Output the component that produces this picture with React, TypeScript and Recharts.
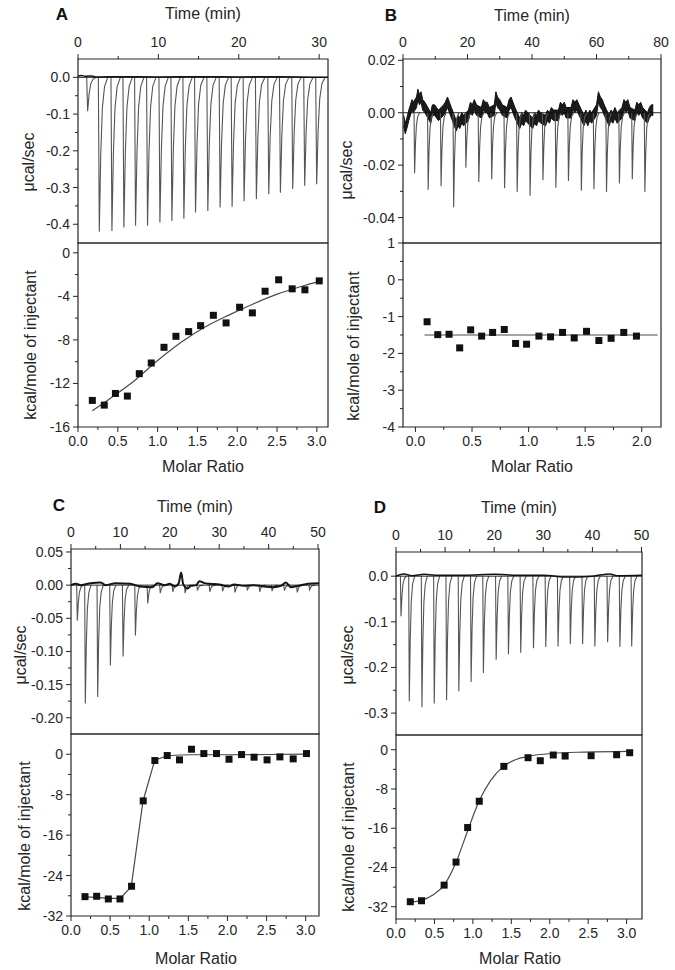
import React from 'react';
import { ComposedChart, Line, Area, Scatter, XAxis, YAxis, ReferenceArea, ReferenceLine } from 'recharts';

const FONT = '"Liberation Sans", Arial, Helvetica, sans-serif';
const INK = '#262626';

// ---------- Panel A ----------
const A_INJ_TIME = [1.2, 2.65, 4.22, 5.71, 7.16, 8.65, 10.19, 11.68, 13.17, 14.62, 16.15, 17.68, 19.17, 20.66, 22.19, 23.73, 25.18, 26.71, 28.2, 29.69];
const A_INJ_PEAK = [-0.092, -0.42, -0.418, -0.409, -0.404, -0.404, -0.395, -0.391, -0.385, -0.368, -0.364, -0.354, -0.352, -0.337, -0.331, -0.318, -0.314, -0.304, -0.295, -0.291];
const A_BASE_T = [0, 0.4, 0.9, 1.7, 2.3, 5, 10, 15, 20, 25, 31.1];
const A_BASE_V = [0.004, 0.005, 0.003, 0.004, 0.001, 0.002, 0.001, 0.002, 0.001, 0.002, 0.0];
const A_RATIO = [0.18, 0.33, 0.47, 0.62, 0.77, 0.92, 1.08, 1.23, 1.39, 1.54, 1.7, 1.86, 2.03, 2.19, 2.35, 2.52, 2.69, 2.85, 3.03];
const A_HEAT = [-13.56, -13.99, -12.92, -13.16, -11.1, -10.12, -8.68, -7.67, -7.24, -6.69, -5.74, -6.44, -5.0, -5.52, -3.53, -2.48, -3.31, -3.4, -2.58];
const A_FIT_X = [0.18, 0.4, 0.7, 1.0, 1.3, 1.6, 1.9, 2.2, 2.5, 2.8, 3.04];
const A_FIT_Y = [-14.5, -13.4, -11.8, -9.9, -8.2, -6.8, -5.7, -4.7, -3.8, -3.1, -2.6];

// ---------- Panel B ----------
const B_INJ_TIME = [3.6, 7.8, 11.8, 15.7, 19.5, 23.5, 27.5, 31.5, 35.4, 39.4, 43.4, 47.4, 51.3, 55.3, 59.2, 63.1, 67.1, 71.1, 75.0];
const B_INJ_PEAK = [-0.0231, -0.0294, -0.028, -0.0361, -0.021, -0.0264, -0.0254, -0.0288, -0.0302, -0.0317, -0.0258, -0.0286, -0.026, -0.0298, -0.0292, -0.0302, -0.027, -0.0254, -0.0302];
const B_BASE_T = [0.2, 0.7, 1.2, 1.8, 2.3, 2.8, 3.2, 4.2, 4.6, 5.1, 5.6, 6.1, 6.8, 8.6, 9.1, 9.8, 10.4, 11.0, 12.6, 13.1, 13.8, 14.4, 15.0, 16.5, 17.1, 17.6, 18.2, 18.8, 20.3, 20.9, 21.5, 22.1, 22.8, 24.3, 24.9, 25.5, 26.1, 26.8, 28.3, 28.8, 29.3, 30.0, 30.8, 32.3, 32.9, 33.5, 34.1, 34.7, 36.2, 36.8, 37.4, 38.0, 38.7, 40.2, 40.8, 41.4, 42.0, 42.7, 44.2, 44.8, 45.4, 46.0, 46.7, 48.2, 48.8, 49.4, 50.0, 50.6, 52.1, 52.7, 53.3, 53.9, 54.6, 56.1, 56.7, 57.3, 57.9, 58.5, 60.0, 60.6, 61.2, 61.8, 62.4, 63.9, 64.5, 65.1, 65.7, 66.4, 67.9, 68.5, 69.1, 69.7, 70.4, 71.9, 72.5, 73.1, 73.7, 74.3, 75.8, 76.4, 77.0, 77.6];
const B_BASE_V = [-0.003, -0.006, -0.004, -0.001, 0.001, 0.003, 0.002, 0.004, 0.007, 0.005, 0.006, 0.003, 0.002, -0.002, 0.001, 0.001, 0.0, -0.001, 0.001, 0.002, 0.004, 0.002, 0.0, -0.005, -0.003, -0.004, -0.002, -0.003, -0.001, 0.002, 0.001, 0.003, 0.001, 0.0, 0.003, 0.002, 0.002, 0.0, 0.001, 0.006, 0.004, 0.003, 0.001, 0.0, 0.003, 0.004, 0.002, 0.0, -0.004, -0.002, -0.003, -0.001, -0.002, -0.004, -0.002, -0.003, -0.001, -0.002, -0.003, -0.001, -0.002, 0.0, -0.001, -0.001, 0.002, 0.001, 0.002, 0.0, 0.0, 0.003, 0.002, 0.003, 0.001, -0.003, -0.001, -0.003, -0.001, -0.002, 0.001, 0.006, 0.004, 0.003, 0.001, -0.003, -0.001, -0.002, 0.0, -0.002, 0.0, 0.003, 0.002, 0.003, 0.0, -0.001, 0.002, 0.001, 0.002, 0.0, -0.002, 0.0, 0.001, 0.001];
const B_RATIO = [0.103, 0.197, 0.297, 0.391, 0.488, 0.585, 0.682, 0.785, 0.885, 0.982, 1.091, 1.194, 1.3, 1.403, 1.512, 1.621, 1.729, 1.841, 1.953];
const B_HEAT = [-1.14, -1.49, -1.48, -1.85, -1.36, -1.53, -1.43, -1.35, -1.73, -1.75, -1.53, -1.55, -1.43, -1.58, -1.4, -1.65, -1.59, -1.43, -1.53];
const B_FIT_X = [0.08, 2.14];
const B_FIT_Y = [-1.5, -1.5];

// ---------- Panel C ----------
const C_INJ_TIME = [1.28, 2.9, 5.4, 7.97, 10.54, 13.04, 15.54, 18.07, 20.6, 23.1, 25.6, 28.1, 30.7, 33.2, 35.7, 38.2, 40.7, 43.2, 45.8, 48.3];
const C_INJ_PEAK = [-0.0535, -0.1785, -0.1685, -0.121, -0.1075, -0.076, -0.0275, -0.012, -0.01, -0.012, -0.008, -0.01, -0.009, -0.011, -0.008, -0.01, -0.009, -0.008, -0.011, -0.007];
const C_BASE_T = [0, 1, 2, 4, 6, 7, 9, 12, 14, 16.5, 17.5, 19, 20, 21, 21.8, 22.3, 22.7, 23.6, 24.3, 25.3, 26, 27, 28, 30, 32, 33, 35, 37, 39, 41, 42.5, 43.5, 44.5, 46, 48, 50.2];
const C_BASE_V = [0, 0.002, 0, 0.003, 0.004, 0, 0.003, 0.002, -0.002, -0.003, 0.003, 0, 0.002, -0.002, 0.003, 0.019, 0.002, -0.005, -0.001, 0, 0.006, 0.003, 0.002, 0.001, -0.002, 0.001, -0.001, 0, -0.002, -0.003, -0.001, 0.004, -0.003, -0.001, 0.002, 0.003];
const C_RATIO = [0.179, 0.328, 0.477, 0.626, 0.774, 0.923, 1.072, 1.23, 1.387, 1.54, 1.698, 1.86, 2.02, 2.18, 2.34, 2.506, 2.67, 2.84, 3.01];
const C_HEAT = [-28.17, -28.1, -28.63, -28.63, -26.12, -9.23, -1.25, -0.26, -1.12, 0.99, 0.13, 0.13, -0.99, -0.07, -0.59, -1.12, -0.53, -0.92, 0.13];
const C_FIT_X = [0.18, 0.33, 0.48, 0.63, 0.77, 0.92, 1.07, 1.23, 1.39, 1.54, 2.0, 2.5, 3.01];
const C_FIT_Y = [-28.2, -28.3, -28.5, -28.5, -26.2, -9.3, -1.2, -0.3, -0.15, -0.1, -0.1, -0.05, 0];

// ---------- Panel D ----------
const D_INJ_TIME = [1.02, 2.71, 5.28, 7.79, 10.3, 12.8, 15.3, 17.8, 20.4, 22.9, 25.4, 28.0, 30.5, 33.0, 35.5, 38.0, 40.5, 43.1, 45.6, 48.0];
const D_INJ_PEAK = [-0.088, -0.274, -0.287, -0.279, -0.272, -0.252, -0.232, -0.212, -0.183, -0.171, -0.168, -0.158, -0.155, -0.154, -0.149, -0.149, -0.154, -0.145, -0.155, -0.154];
const D_BASE_T = [0, 1.6, 3.2, 5.8, 8, 14, 20, 25, 30, 35, 40, 43.5, 45, 50.1];
const D_BASE_V = [0, 0.005, 0.001, 0.004, 0.002, 0.002, 0.004, 0.002, 0.002, -0.002, 0, 0.005, 0.001, 0.002];
const D_RATIO = [0.186, 0.332, 0.626, 0.781, 0.932, 1.083, 1.403, 1.718, 1.877, 2.046, 2.2, 2.538, 2.87, 3.04];
const D_HEAT = [-30.98, -30.78, -27.6, -22.9, -15.86, -10.5, -3.39, -1.63, -2.24, -1.08, -1.29, -1.22, -1.02, -0.61];
const D_FIT_X = [0.18, 0.33, 0.48, 0.63, 0.78, 0.93, 1.08, 1.23, 1.4, 1.56, 1.72, 2.03, 2.45, 3.04];
const D_FIT_Y = [-31.1, -30.7, -29.6, -27.5, -23.0, -16.6, -10.5, -6.3, -3.4, -2.0, -1.35, -0.75, -0.48, -0.34];

// spike template (offset in minutes, fraction of peak depth)
const SPIKE_OFFSET = [-0.12, 0, 0.18, 0.38, 0.65, 1.05];
const SPIKE_FRACTION = [0, 1, 0.5, 0.2, 0.06, 0];

const YW = 60;
const MR = 8;
const XH_TOP = 40;
const XH_BOT = 45;
const PADT = 12;

function zipT(ts: number[], vs: number[]) {
  return ts.map((t, i) => ({ t, v: vs[i] }));
}
function bandT(ts: number[], vs: number[], half: number) {
  return ts.map((t, i) => ({ t, band: [vs[i] - half, vs[i] + half] }));
}
function zipXY(xs: number[], ys: number[]) {
  return xs.map((x, i) => ({ x, y: ys[i] }));
}
function spikeTrace(times: number[], peaks: number[], w: number) {
  const out: { t: number; v: number | null }[] = [];
  times.forEach((t, i) => {
    SPIKE_OFFSET.forEach((o, k) => out.push({ t: t + o * w, v: peaks[i] * SPIKE_FRACTION[k] }));
    out.push({ t: t + SPIKE_OFFSET[SPIKE_OFFSET.length - 1] * w + 0.02, v: null });
  });
  return out;
}

const near = (arr: number[], v: number) => arr.some((m) => Math.abs(m - v) < 1e-9);

function makeTick(side: 'top' | 'bottom' | 'left', majors: number[], fmt: (v: number) => string) {
  return (props: any) => {
    const { x, y, payload } = props;
    const val = payload.value;
    const major = near(majors, val);
    const L = major ? 5 : 3;
    const tStyle = { fontFamily: FONT, fontSize: 14, fill: INK } as any;
    if (side === 'top') {
      return (
        <g>
          <line x1={x} y1={y} x2={x} y2={y - L} stroke={INK} strokeWidth={1} />
          {major && <text x={x} y={y - 12} textAnchor="middle" style={tStyle}>{fmt(val)}</text>}
        </g>
      );
    }
    if (side === 'bottom') {
      return (
        <g>
          <line x1={x} y1={y} x2={x} y2={y + L} stroke={INK} strokeWidth={1} />
          {major && <text x={x} y={y + 19} textAnchor="middle" style={tStyle}>{fmt(val)}</text>}
        </g>
      );
    }
    return (
      <g>
        <line x1={x} y1={y} x2={x - L} y2={y} stroke={INK} strokeWidth={1} />
        {major && <text x={x - 8} y={y + 5} textAnchor="end" style={tStyle}>{fmt(val)}</text>}
      </g>
    );
  };
}

const square = (props: any) => {
  const { cx, cy } = props;
  if (cx == null || cy == null) return <g />;
  return <rect x={cx - 3.5} y={cy - 3.5} width={7} height={7} fill="#111" />;
};

type PanelCfg = {
  box: [number, number, number, number, number];
  tDom: [number, number];
  tMaj: number[];
  tMin: number[];
  pDom: [number, number];
  pMaj: number[];
  pMin: number[];
  pFmt: (v: number) => string;
  hDom: [number, number];
  hMaj: number[];
  hMin: number[];
  rDom: [number, number];
  rMaj: number[];
  rMin: number[];
  base: { t: number; v: number }[] | null;
  band: { t: number; band: number[] }[] | null;
  baseW: number;
  spikes: { t: number; v: number | null }[];
  pts: { x: number; y: number }[];
  fit: { x: number; y: number }[];
  fitType: 'linear' | 'monotone';
};

function Panel({ c }: { c: PanelCfg }) {
  const [x0, x1, yTop, yMid, yBot] = c.box;
  const W = x1 - x0 + YW + MR;
  const topH = yMid - yTop + XH_TOP + 1;
  const botH = yBot - yMid + PADT + XH_BOT;
  const intFmt = (v: number) => String(Math.round(v));
  const oneFmt = (v: number) => v.toFixed(1);
  return (
    <>
      <div style={{ position: 'absolute', left: x0 - YW, top: yTop - XH_TOP }}>
        <ComposedChart width={W} height={topH} margin={{ top: 0, right: MR, bottom: 1, left: 0 }}>
          <XAxis
            type="number"
            dataKey="t"
            orientation="top"
            domain={c.tDom}
            ticks={[...c.tMaj, ...c.tMin]}
            height={XH_TOP}
            tickSize={0}
            tickMargin={0}
            axisLine={false}
            tickLine={false}
            interval={0}
            allowDataOverflow
            tick={makeTick('top', c.tMaj, intFmt)}
          />
          <YAxis
            type="number"
            domain={c.pDom}
            ticks={[...c.pMaj, ...c.pMin]}
            width={YW}
            tickSize={0}
            tickMargin={0}
            axisLine={false}
            tickLine={false}
            interval={0}
            allowDataOverflow
            tick={makeTick('left', c.pMaj, c.pFmt)}
          />
          <Line data={c.spikes} dataKey="v" stroke="#555" strokeWidth={1.1} dot={false} isAnimationActive={false} connectNulls={false} type="linear" />
          {c.band && (
            <Area data={c.band} dataKey="band" stroke="#111" strokeWidth={1} fill="#1a1a1a" fillOpacity={1} dot={false} isAnimationActive={false} type="linear" />
          )}
          {c.base && (
            <Line data={c.base} dataKey="v" stroke="#151515" strokeWidth={c.baseW} dot={false} isAnimationActive={false} type="monotone" />
          )}
          <ReferenceLine y={0} stroke="#111" strokeWidth={0.9} />
          <ReferenceArea x1={c.tDom[0]} x2={c.tDom[1]} y1={c.pDom[0]} y2={c.pDom[1]} fill="none" fillOpacity={0} stroke={INK} strokeWidth={1.2} ifOverflow="visible" />
        </ComposedChart>
      </div>
      <div style={{ position: 'absolute', left: x0 - YW, top: yMid - PADT }}>
        <ComposedChart width={W} height={botH} margin={{ top: PADT, right: MR, bottom: 0, left: 0 }}>
          <XAxis
            type="number"
            dataKey="x"
            orientation="bottom"
            domain={c.rDom}
            ticks={[...c.rMaj, ...c.rMin]}
            height={XH_BOT}
            tickSize={0}
            tickMargin={0}
            axisLine={false}
            tickLine={false}
            interval={0}
            allowDataOverflow
            tick={makeTick('bottom', c.rMaj, oneFmt)}
          />
          <YAxis
            type="number"
            domain={c.hDom}
            ticks={[...c.hMaj, ...c.hMin]}
            width={YW}
            tickSize={0}
            tickMargin={0}
            axisLine={false}
            tickLine={false}
            interval={0}
            allowDataOverflow
            tick={makeTick('left', c.hMaj, intFmt)}
          />
          <Line data={c.fit} dataKey="y" stroke="#4a4a4a" strokeWidth={1.2} dot={false} isAnimationActive={false} type={c.fitType} />
          <Scatter data={c.pts} dataKey="y" shape={square} isAnimationActive={false} />
          <ReferenceArea x1={c.rDom[0]} x2={c.rDom[1]} y1={c.hDom[0]} y2={c.hDom[1]} fill="none" fillOpacity={0} stroke={INK} strokeWidth={1.2} ifOverflow="visible" />
        </ComposedChart>
      </div>
    </>
  );
}

const RATIO_MAJ = [0, 0.5, 1, 1.5, 2, 2.5, 3];
const RATIO_MIN = [0.25, 0.75, 1.25, 1.75, 2.25, 2.75];

const PANELS: PanelCfg[] = [
  {
    box: [78, 328, 59, 243, 427],
    tDom: [0, 31.1], tMaj: [0, 10, 20, 30], tMin: [5, 15, 25],
    pDom: [-0.451, 0.05], pMaj: [0, -0.1, -0.2, -0.3, -0.4], pMin: [-0.05, -0.15, -0.25, -0.35], pFmt: (v) => v.toFixed(1),
    hDom: [-16, 0.9], hMaj: [0, -4, -8, -12, -16], hMin: [-2, -6, -10, -14],
    rDom: [0, 3.14], rMaj: RATIO_MAJ, rMin: RATIO_MIN,
    base: zipT(A_BASE_T, A_BASE_V), band: null, baseW: 1.5,
    spikes: spikeTrace(A_INJ_TIME, A_INJ_PEAK, 1),
    pts: zipXY(A_RATIO, A_HEAT), fit: zipXY(A_FIT_X, A_FIT_Y), fitType: 'monotone',
  },
  {
    box: [403, 661, 59, 243, 427],
    tDom: [0, 80], tMaj: [0, 20, 40, 60, 80], tMin: [10, 30, 50, 70],
    pDom: [-0.0497, 0.0205], pMaj: [0.02, 0, -0.02, -0.04], pMin: [0.01, -0.01, -0.03], pFmt: (v) => v.toFixed(2),
    hDom: [-4, 1], hMaj: [1, 0, -1, -2, -3, -4], hMin: [0.5, -0.5, -1.5, -2.5, -3.5],
    rDom: [-0.11, 2.17], rMaj: [0, 0.5, 1, 1.5, 2], rMin: [0.25, 0.75, 1.25, 1.75],
    base: null, band: bandT(B_BASE_T, B_BASE_V, 0.002), baseW: 1,
    spikes: spikeTrace(B_INJ_TIME, B_INJ_PEAK, 1.5),
    pts: zipXY(B_RATIO, B_HEAT), fit: zipXY(B_FIT_X, B_FIT_Y), fitType: 'linear',
  },
  {
    box: [71, 319, 549, 734, 916],
    tDom: [0, 50.2], tMaj: [0, 10, 20, 30, 40, 50], tMin: [5, 15, 25, 35, 45],
    pDom: [-0.2245, 0.0545], pMaj: [0.05, 0, -0.05, -0.1, -0.15, -0.2], pMin: [0.025, -0.025, -0.075, -0.125, -0.175], pFmt: (v) => v.toFixed(2),
    hDom: [-32, 4], hMaj: [0, -8, -16, -24, -32], hMin: [-4, -12, -20, -28],
    rDom: [0, 3.17], rMaj: RATIO_MAJ, rMin: RATIO_MIN,
    base: zipT(C_BASE_T, C_BASE_V), band: null, baseW: 2,
    spikes: spikeTrace(C_INJ_TIME, C_INJ_PEAK, 1.1),
    pts: zipXY(C_RATIO, C_HEAT), fit: zipXY(C_FIT_X, C_FIT_Y), fitType: 'linear',
  },
  {
    box: [396, 642, 552, 735, 919],
    tDom: [0, 50.1], tMaj: [0, 10, 20, 30, 40, 50], tMin: [5, 15, 25, 35, 45],
    pDom: [-0.348, 0.053], pMaj: [0, -0.1, -0.2, -0.3], pMin: [-0.05, -0.15, -0.25], pFmt: (v) => v.toFixed(1),
    hDom: [-34.5, 3], hMaj: [0, -8, -16, -24, -32], hMin: [-4, -12, -20, -28],
    rDom: [0, 3.2], rMaj: RATIO_MAJ, rMin: RATIO_MIN,
    base: zipT(D_BASE_T, D_BASE_V), band: null, baseW: 1.5,
    spikes: spikeTrace(D_INJ_TIME, D_INJ_PEAK, 1.05),
    pts: zipXY(D_RATIO, D_HEAT), fit: zipXY(D_FIT_X, D_FIT_Y), fitType: 'monotone',
  },
];

const LETTERS = [
  { s: 'A', x: 62, y: 20 },
  { s: 'B', x: 391, y: 21 },
  { s: 'C', x: 59, y: 511 },
  { s: 'D', x: 380, y: 513 },
];
const TIME_TITLES = [
  { x: 203, y: 19 },
  { x: 532, y: 21 },
  { x: 195, y: 512 },
  { x: 519, y: 513 },
];
const UCAL_TITLES = [
  { x: 28, y: 162 },
  { x: 346, y: 170 },
  { x: 20, y: 655 },
  { x: 347, y: 655 },
];
const KCAL_TITLES = [
  { x: 30, y: 345 },
  { x: 353, y: 346 },
  { x: 24, y: 836 },
  { x: 348, y: 837 },
];
const MOLAR_TITLES = [
  { x: 203, y: 472 },
  { x: 532, y: 472 },
  { x: 196, y: 964 },
  { x: 520, y: 964 },
];

export default function App() {
  const t = { fontFamily: FONT, fill: INK, fontSize: 16 } as any;
  return (
    <div style={{ position: 'absolute', left: 0, top: 0, width: 675, height: 970, background: '#fff', overflow: 'hidden' }}>
      {PANELS.map((c, i) => (
        <Panel key={i} c={c} />
      ))}
      <svg width={675} height={970} style={{ position: 'absolute', left: 0, top: 0, pointerEvents: 'none' }}>
        {LETTERS.map((l) => (
          <text key={l.s} x={l.x} y={l.y} textAnchor="middle" style={{ ...t, fontSize: 17, fontWeight: 'bold', fill: '#111' }}>{l.s}</text>
        ))}
        {TIME_TITLES.map((p, i) => (
          <text key={'t' + i} x={p.x} y={p.y} textAnchor="middle" style={t}>Time (min)</text>
        ))}
        {UCAL_TITLES.map((p, i) => (
          <text key={'u' + i} x={p.x} y={p.y} textAnchor="middle" dominantBaseline="central" transform={`rotate(-90 ${p.x} ${p.y})`} style={t}>μcal/sec</text>
        ))}
        {KCAL_TITLES.map((p, i) => (
          <text key={'k' + i} x={p.x} y={p.y} textAnchor="middle" dominantBaseline="central" transform={`rotate(-90 ${p.x} ${p.y})`} style={t}>kcal/mole of injectant</text>
        ))}
        {MOLAR_TITLES.map((p, i) => (
          <text key={'m' + i} x={p.x} y={p.y} textAnchor="middle" style={t}>Molar Ratio</text>
        ))}
      </svg>
    </div>
  );
}
